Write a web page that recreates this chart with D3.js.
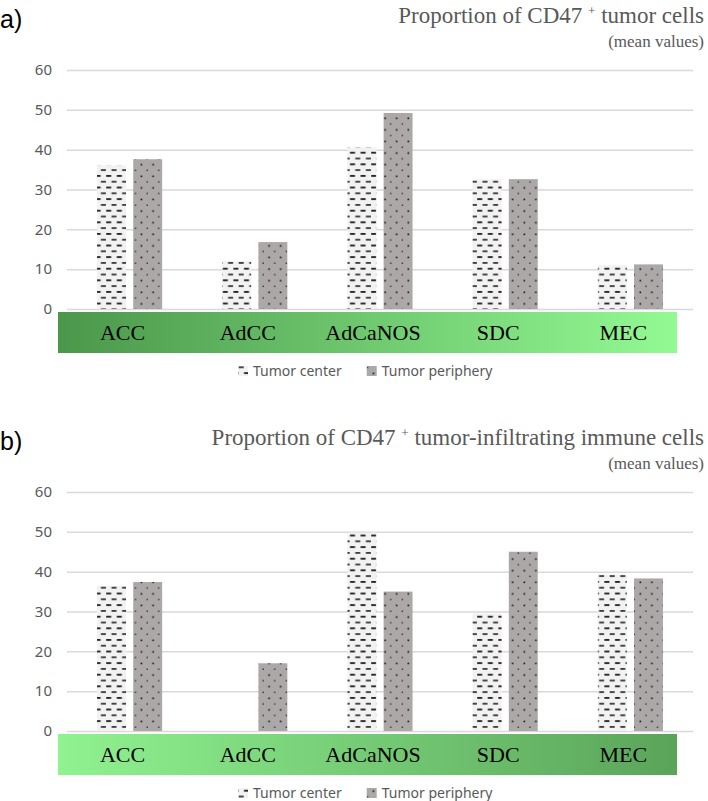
<!DOCTYPE html>
<html><head><meta charset="utf-8">
<script src="https://cdn.jsdelivr.net/npm/d3@7"></script>
<style>body{margin:0;background:#fff}svg{display:block}</style>
</head><body>
<svg id="c" width="708" height="801"></svg>
<script>
// ---- data ----
const categories = ["ACC", "AdCC", "AdCaNOS", "SDC", "MEC"];
const seriesNames = ["Tumor center", "Tumor periphery"];
const tumorCellsCenter = [36.0, 12.1, 40.5, 32.6, 11.0];
const tumorCellsPeriphery = [37.6, 16.8, 49.2, 32.6, 11.2];
const immuneCellsCenter = [36.4, 0, 49.8, 29.5, 39.3];
const immuneCellsPeriphery = [37.4, 17.0, 35.0, 45.0, 38.3];
const yTickValues = [0, 10, 20, 30, 40, 50, 60];
const panelLetters = ["a)", "b)"];
const panelTitles = ["tumor cells", "tumor-infiltrating immune cells"];

const svg = d3.select("#c");
const defs = svg.append("defs");

// pattern: tumor center (dashed horizontal)
const pc = defs.append("pattern").attr("id", "patCenter")
  .attr("patternUnits", "userSpaceOnUse").attr("width", 10.6).attr("height", 11.6);
pc.append("rect").attr("width", 10.6).attr("height", 11.6).attr("fill", "#f2f2f2");
pc.append("rect").attr("x", 0.2).attr("y", 1).attr("width", 5).attr("height", 1.8).attr("fill", "#1e1e1e");
pc.append("rect").attr("x", 5.5).attr("y", 6.8).attr("width", 5).attr("height", 1.8).attr("fill", "#3a3a3a");

// pattern: tumor periphery (dots)
const pp = defs.append("pattern").attr("id", "patPeriph")
  .attr("patternUnits", "userSpaceOnUse").attr("width", 11.6).attr("height", 11.6);
pp.append("rect").attr("width", 11.6).attr("height", 11.6).attr("fill", "#aca8a7");
pp.append("rect").attr("x", 1.5).attr("y", 1.5).attr("width", 1.6).attr("height", 1.6).attr("fill", "#111");
pp.append("rect").attr("x", 7.3).attr("y", 7.3).attr("width", 1.4).attr("height", 1.4).attr("fill", "#333");

const fills = ["url(#patCenter)", "url(#patPeriph)"];

function gradient(id, c0, c1) {
  const g = defs.append("linearGradient").attr("id", id)
    .attr("x1", 0).attr("x2", 1).attr("y1", 0).attr("y2", 0);
  g.append("stop").attr("offset", 0).attr("stop-color", c0);
  g.append("stop").attr("offset", 1).attr("stop-color", c1);
}
gradient("gA", "#4b974b", "#93fa93");
gradient("gB", "#90f290", "#5aa45a");

const panels = [
  { dy: 0, center: tumorCellsCenter, periph: tumorCellsPeriphery, grad: "url(#gA)" },
  { dy: 422, center: immuneCellsCenter, periph: immuneCellsPeriphery, grad: "url(#gB)" }
];

panels.forEach((p, pi) => {
  const left = 67, right = 693;
  const y = d3.scaleLinear().domain([0, 60]).range([309 + p.dy, 70 + p.dy]);
  const x = d3.scaleBand().domain(categories).range([left, right])
    .paddingInner(0.48).paddingOuter(0.24);
  const xs = d3.scaleBand().domain(seriesNames).range([0, x.bandwidth()]).paddingInner(0.2);

  // axis + gridlines
  const ax = svg.append("g").attr("transform", `translate(${left},0)`)
    .call(d3.axisLeft(y).tickValues(yTickValues).tickSize(-(right - left)).tickPadding(15));
  ax.select(".domain").remove();
  ax.selectAll(".tick line").attr("stroke", "#d9d9d9").attr("stroke-width", 1.5);
  ax.selectAll(".tick text").attr("font-family", "Noto Sans, sans-serif")
    .attr("font-size", 15).attr("fill", "#595959");

  // bars
  const rows = categories.map((c, i) => ({ cat: c, vals: [p.center[i], p.periph[i]] }));
  const gb = svg.append("g");
  rows.forEach(r => {
    r.vals.forEach((v, si) => {
      if (v <= 0) return;
      gb.append("rect")
        .attr("x", x(r.cat) + xs(seriesNames[si]))
        .attr("y", y(v))
        .attr("width", xs.bandwidth())
        .attr("height", y(0) - y(v))
        .attr("fill", fills[si]);
    });
  });

  // category band
  const bandTop = 312 + p.dy, bandH = 41;
  svg.append("rect").attr("x", 58).attr("y", bandTop).attr("width", 619).attr("height", bandH)
    .attr("fill", p.grad);
  svg.append("g").selectAll("text").data(categories).join("text")
    .attr("x", d => x(d) + x.bandwidth() / 2 - 7)
    .attr("y", bandTop + bandH / 2 + 7.5)
    .attr("text-anchor", "middle")
    .attr("font-family", "Liberation Serif, serif").attr("font-size", 22).attr("fill", "#000")
    .text(d => d);

  // legend
  const lg = svg.append("g");
  let lx = 238;
  const ly = 371 + p.dy;
  seriesNames.forEach((s, si) => {
    lg.append("rect").attr("x", lx).attr("y", ly - 5).attr("width", 10).attr("height", 10).attr("fill", fills[si]);
    const t = lg.append("text").attr("x", lx + 15).attr("y", ly + 5)
      .attr("font-family", "Noto Sans, sans-serif").attr("font-size", 14).attr("fill", "#595959")
      .text(s);
    lx += 15 + t.node().getComputedTextLength() + 25;
  });

  // panel letter
  svg.append("text").attr("x", 0).attr("y", 28 + p.dy)
    .attr("font-family", "Liberation Sans, sans-serif").attr("font-size", 25).attr("fill", "#000")
    .text(panelLetters[pi]);

  // title
  const tt = svg.append("text").attr("x", 704).attr("y", 23 + p.dy).attr("text-anchor", "end")
    .attr("font-family", "Liberation Serif, serif").attr("font-size", 23).attr("fill", "#595959");
  tt.append("tspan").text("Proportion of CD47 ");
  tt.append("tspan").attr("font-size", 13).attr("dy", -8).text("+");
  tt.append("tspan").attr("dy", 8).text(" " + panelTitles[pi]);
  svg.append("text").attr("x", 704).attr("y", 47 + p.dy).attr("text-anchor", "end")
    .attr("font-family", "Liberation Serif, serif").attr("font-size", 17).attr("fill", "#595959")
    .text("(mean values)");
});
</script>
</body></html>
